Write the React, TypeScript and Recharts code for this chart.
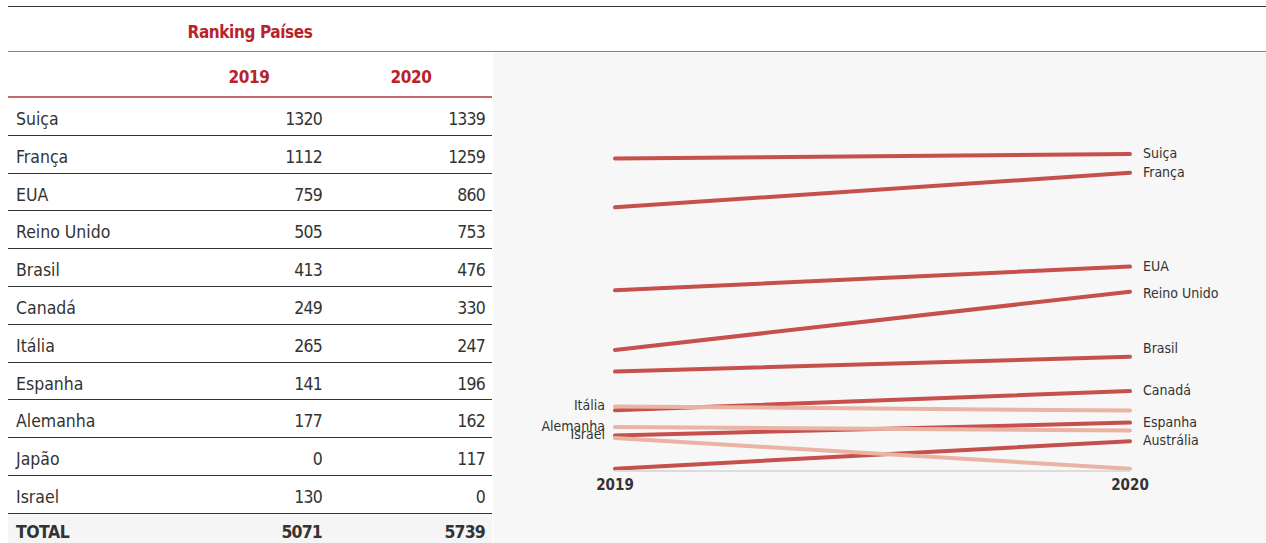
import React from "react";
import { LineChart, Line, XAxis, YAxis, LabelList } from "recharts";

// table data
const tableCountries = ["Suiça", "França", "EUA", "Reino Unido", "Brasil", "Canadá", "Itália", "Espanha", "Alemanha", "Japão", "Israel"];
const table2019 = [1320, 1112, 759, 505, 413, 249, 265, 141, 177, 0, 130];
const table2020 = [1339, 1259, 860, 753, 476, 330, 247, 196, 162, 117, 0];
const total2019 = 5071;
const total2020 = 5739;

// slope chart data
const years = ["2019", "2020"];
const slopeCountries = ["Suiça", "França", "EUA", "Reino Unido", "Brasil", "Canadá", "Itália", "Espanha", "Alemanha", "Austrália", "Israel"];
const slope2019 = [1320, 1112, 759, 505, 413, 249, 265, 141, 177, 0, 130];
const slope2020 = [1339, 1259, 860, 753, 476, 330, 247, 196, 162, 117, 0];

const DARK = "#c5504c";
const LIGHT = "#e9b4a3";
const RED = "#b8232b";
const TEXT = "#333";
const FONT = "'DejaVu Sans Condensed', Roboto, sans-serif";

const chartData = years.map((y, i) => {
  const row: any = { year: y };
  slopeCountries.forEach((c, j) => {
    row[c] = i === 0 ? slope2019[j] : slope2020[j];
  });
  return row;
});

const ROW_H = 37.8;

const App: React.FC = () => {
  const cell: React.CSSProperties = {
    position: "absolute",
    fontSize: 17.5,
    color: TEXT,
    lineHeight: "20px",
  };
  const num: React.CSSProperties = { ...cell, width: 100, textAlign: "right", letterSpacing: -0.8 };
  const head: React.CSSProperties = {
    position: "absolute",
    textAlign: "center",
    color: RED,
    fontWeight: 700,
    fontSize: 17,
    letterSpacing: -0.4,
    lineHeight: "26px",
  };

  return (
    <div style={{ position: "absolute", left: 0, top: 0, width: 1266, height: 543, background: "#fff", fontFamily: FONT, overflow: "hidden" }}>
      <div style={{ position: "absolute", left: 8, top: 6, width: 1258, height: 1, background: "#333" }} />
      <div style={{ position: "absolute", left: 8, top: 51, width: 1258, height: 1, background: "#c9686a" }} />
      <div style={{ ...head, left: 8, top: 19, width: 484 }}>Ranking Países</div>
      <div style={{ ...head, left: 189, top: 64, width: 120 }}>2019</div>
      <div style={{ ...head, left: 351, top: 64, width: 120 }}>2020</div>
      <div style={{ position: "absolute", left: 8, top: 96, width: 484, height: 2, background: "#c9686a" }} />

      {tableCountries.map((c, i) => {
        const top = 98 + i * ROW_H;
        return (
          <React.Fragment key={c}>
            <div style={{ ...cell, left: 16, top: top + 11 }}>{c}</div>
            <div style={{ ...num, left: 222, top: top + 11 }}>{table2019[i]}</div>
            <div style={{ ...num, left: 385, top: top + 11 }}>{table2020[i]}</div>
            <div style={{ position: "absolute", left: 8, top: top + ROW_H - 1, width: 484, height: 1, background: "#333" }} />
          </React.Fragment>
        );
      })}
      <div style={{ position: "absolute", left: 8, top: 514, width: 484, height: 29, background: "#f5f5f5" }} />
      <div style={{ ...cell, left: 16, top: 522, fontWeight: 700, letterSpacing: -0.5 }}>TOTAL</div>
      <div style={{ ...num, left: 222, top: 522, fontWeight: 700 }}>{total2019}</div>
      <div style={{ ...num, left: 385, top: 522, fontWeight: 700 }}>{total2020}</div>

      {/* slope chart */}
      <div style={{ position: "absolute", left: 493, top: 52, width: 773, height: 491, background: "#f7f7f7" }}>
        <LineChart width={773} height={491} data={chartData} margin={{ top: 102, right: 136, bottom: 42, left: 122 }}>
          <XAxis
            dataKey="year"
            tickLine={false}
            axisLine={{ stroke: "#dcdcdc", strokeWidth: 2 }}
            tick={{ fill: TEXT, fontSize: 15, fontWeight: 700, fontFamily: FONT }}
            height={30}
            interval={0}
          />
          <YAxis hide domain={[-10, 1339]} />
          {slopeCountries.map((c, j) => {
            const up = slope2020[j] >= slope2019[j];
            return (
              <Line
                key={c}
                dataKey={c}
                stroke={up ? DARK : LIGHT}
                strokeWidth={4}
                strokeLinecap="round"
                dot={false}
                activeDot={false}
                isAnimationActive={false}
              >
                <LabelList
                  dataKey={c}
                  content={(p: any) => {
                    const idx = p.index;
                    if (up && idx !== 1) return null;
                    if (!up && idx !== 0) return null;
                    return (
                      <text
                        x={up ? p.x + 13 : p.x - 10}
                        y={p.y}
                        dy={c === "Brasil" ? -8 : c === "Israel" ? -3 : c === "Reino Unido" ? 2 : 0}
                        textAnchor={up ? "start" : "end"}
                        dominantBaseline="middle"
                        fontSize={14}
                        fontFamily={FONT}
                        fill={TEXT}
                      >
                        {c}
                      </text>
                    );
                  }}
                />
              </Line>
            );
          })}
        </LineChart>
      </div>
    </div>
  );
};

export default App;
